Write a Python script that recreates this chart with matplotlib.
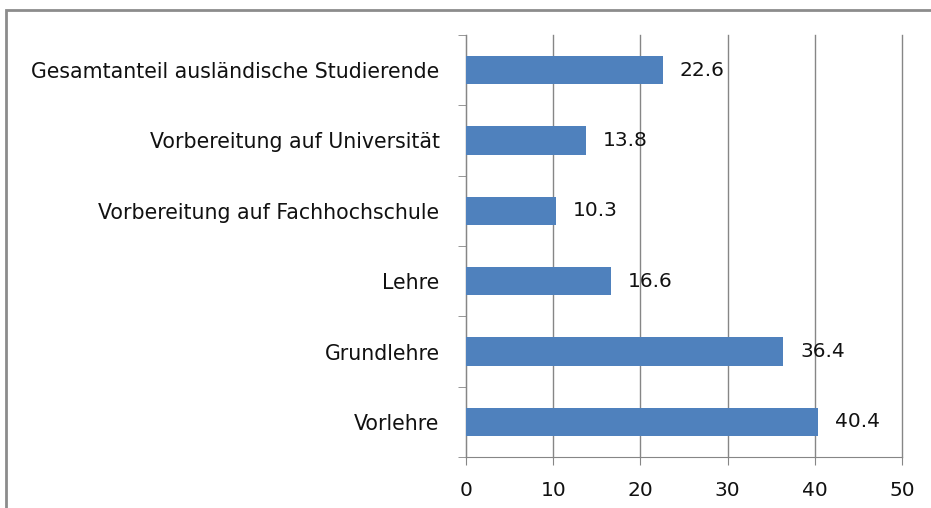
import matplotlib.pyplot as plt
from matplotlib.patches import Rectangle

categories = ["Vorlehre", "Grundlehre", "Lehre", "Vorbereitung auf Fachhochschule",
              "Vorbereitung auf Universität", "Gesamtanteil ausländische Studierende"]
values = [40.4, 36.4, 16.6, 10.3, 13.8, 22.6]

bar_colour = "#4F81BD"
grid_colour = "#868686"
text_colour = "#111111"
font_size = 14.5

fig = plt.figure(figsize=(9.31, 5.08), dpi=100)
ax = fig.add_axes([466 / 931, 1 - 457 / 508, 436 / 931, 422 / 508])

# outer chart frame, cut off at right and bottom like the source
fig.patches.append(Rectangle((6 / 931, -0.1), 1.1, 1 - 10 / 508 + 0.1,
                             transform=fig.transFigure, fill=False,
                             edgecolor="#8c8c8c", linewidth=2))

ypos = range(len(categories))
ax.barh(ypos, values, height=0.4, color=bar_colour, zorder=3)
for y, v in zip(ypos, values):
    ax.annotate(f"{v:.1f}", (v, y), xytext=(12, 0), textcoords="offset points",
                va="center", ha="left", fontsize=font_size, color=text_colour)

ax.set_xlim(0, 50)
ax.set_ylim(-0.5, len(categories) - 0.5)
ax.set_xticks(range(0, 51, 10))
ax.set_yticks(list(ypos))
ax.set_yticklabels(categories)
ax.set_yticks([i - 0.5 for i in range(len(categories) + 1)], minor=True)

ax.xaxis.grid(True, color=grid_colour, linewidth=1, zorder=0)
for line in ax.get_xgridlines():
    line.set_clip_on(False)
for side in ["top", "right"]:
    ax.spines[side].set_visible(False)
for side in ["left", "bottom"]:
    ax.spines[side].set_color(grid_colour)

ax.tick_params(axis="y", which="major", length=0, pad=19, labelsize=14.8, labelcolor=text_colour)
ax.tick_params(axis="y", which="minor", length=6, color=grid_colour)
ax.tick_params(axis="x", length=6, color=grid_colour, labelsize=font_size, labelcolor=text_colour, pad=11)

fig.savefig("out.png", dpi=100)
